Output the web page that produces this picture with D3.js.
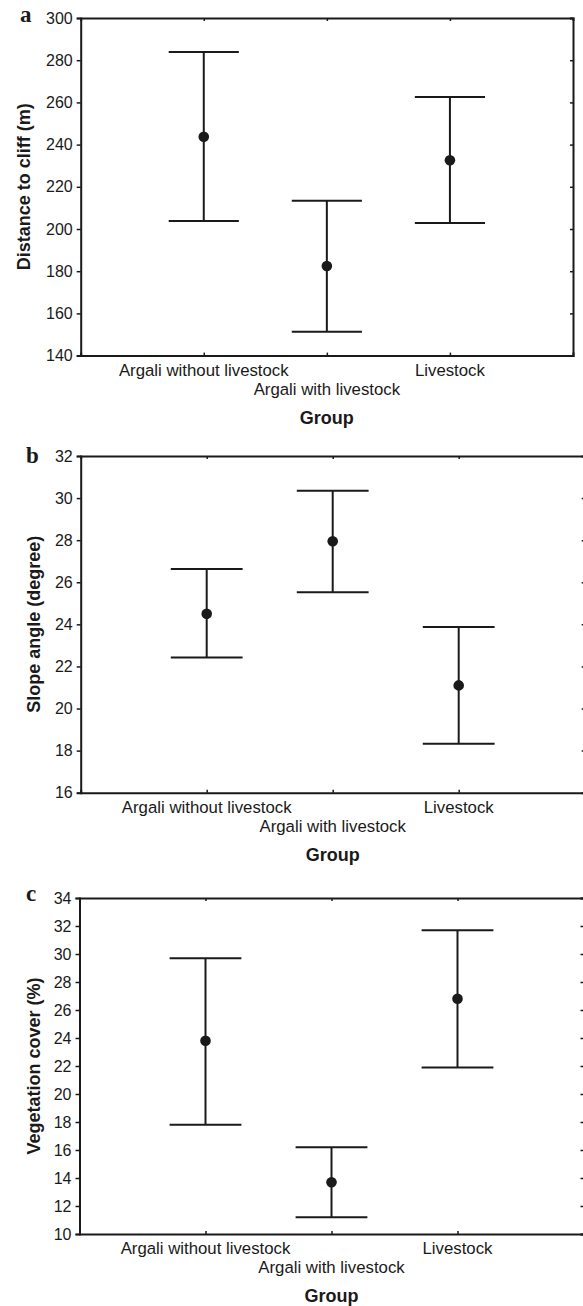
<!DOCTYPE html>
<html>
<head>
<meta charset="utf-8">
<script src="https://cdn.jsdelivr.net/npm/d3@7"></script>
<style>
    html, body { margin: 0; padding: 0; background: #fff; }
    svg { display: block; }
    text { font-family: "Liberation Sans", Arial, sans-serif; fill: #1a1a1a; }
</style>
</head>
<body>
<div id="chart"></div>
<script>
// Mean and interval plots for the three groups (panels a, b, c)

const groups = ["Argali without livestock", "Argali with livestock", "Livestock"];

// a - distance to cliff (m)
const distanceMean = [243.7, 182.5, 232.6];
const distanceLow = [203.8, 151.3, 202.8];
const distanceHigh = [283.9, 213.4, 262.6];
const distanceTicks = [140, 160, 180, 200, 220, 240, 260, 280, 300];

// b - slope angle (degree)
const slopeMean = [24.5, 27.95, 21.1];
const slopeLow = [22.42, 25.52, 18.33];
const slopeHigh = [26.63, 30.35, 23.88];
const slopeTicks = [16, 18, 20, 22, 24, 26, 28, 30, 32];

// c - vegetation cover (%)
const coverMean = [23.8, 13.7, 26.8];
const coverLow = [17.8, 11.2, 21.9];
const coverHigh = [29.7, 16.2, 31.7];
const coverTicks = [10, 12, 14, 16, 18, 20, 22, 24, 26, 28, 30, 32, 34];

const width = 583, height = 1306;
const ink = "#1a1a1a";

const svg = d3.select("#chart")
    .append("svg")
    .attr("width", width)
    .attr("height", height);

function drawPanel(opts) {
    const { letter, letterPos, box, ticks, title, titleX, mean, low, high } = opts;

    const x = d3.scaleLinear().domain([0, 4]).range([box.left, box.right]);
    const y = d3.scaleLinear()
        .domain([ticks[0], ticks[ticks.length - 1]])
        .range([box.bottom, box.top]);

    const g = svg.append("g");

    // axes: left ticks point out, the other three sides point in
    const left = g.append("g")
        .attr("transform", `translate(${box.left},0)`)
        .call(d3.axisLeft(y).tickValues(ticks).tickSize(4).tickPadding(4).tickFormat(d3.format("d")));
    const right = g.append("g")
        .attr("transform", `translate(${box.right},0)`)
        .call(d3.axisLeft(y).tickValues(ticks).tickSize(3).tickFormat(""));
    const bottom = g.append("g")
        .attr("transform", `translate(0,${box.bottom})`)
        .call(d3.axisTop(x).tickValues([1, 2, 3]).tickSize(3).tickFormat(""));
    const top = g.append("g")
        .attr("transform", `translate(0,${box.top})`)
        .call(d3.axisBottom(x).tickValues([1, 2, 3]).tickSize(3).tickFormat(""));

    [left, right, bottom, top].forEach(ax => {
        ax.select(".domain").attr("stroke", ink).attr("stroke-width", 2);
        ax.selectAll(".tick line").attr("stroke", ink).attr("stroke-width", 1.5);
    });
    left.selectAll(".tick text")
        .attr("fill", ink)
        .style("font-size", "16px")
        .style("font-family", "'Liberation Sans', Arial, sans-serif");

    // category labels, the middle one on a second row
    g.selectAll("text.cat")
        .data(groups)
        .join("text")
        .attr("class", "cat")
        .attr("x", (d, i) => x(i + 1))
        .attr("y", (d, i) => box.bottom + (i === 1 ? 39 : 20))
        .attr("text-anchor", "middle")
        .style("font-size", "16.8px")
        .text(d => d);

    g.append("text")
        .attr("x", x(2))
        .attr("y", box.bottom + 68)
        .attr("text-anchor", "middle")
        .style("font-size", "18px")
        .style("font-weight", "bold")
        .text("Group");

    g.append("text")
        .attr("transform", `translate(${titleX},${(box.top + box.bottom) / 2}) rotate(-90)`)
        .attr("text-anchor", "middle")
        .style("font-size", "18px")
        .style("font-weight", "bold")
        .text(title);

    g.append("text")
        .attr("x", letterPos[0])
        .attr("y", letterPos[1])
        .style("font-family", "'Liberation Serif', 'DejaVu Serif', serif")
        .style("font-size", "23px")
        .style("font-weight", "bold")
        .text(letter);

    // whiskers, caps and mean points
    const rows = groups.map((d, i) => ({ i: i + 1, mean: mean[i], low: low[i], high: high[i] }));
    const capHalf = 0.285;

    g.selectAll("line.whisker")
        .data(rows)
        .join("line")
        .attr("class", "whisker")
        .attr("x1", d => x(d.i)).attr("x2", d => x(d.i))
        .attr("y1", d => y(d.low)).attr("y2", d => y(d.high))
        .attr("stroke", ink).attr("stroke-width", 2);

    g.selectAll("line.cap")
        .data(rows.flatMap(d => [d.low, d.high].map(v => ({ i: d.i, v }))))
        .join("line")
        .attr("class", "cap")
        .attr("x1", d => x(d.i - capHalf)).attr("x2", d => x(d.i + capHalf))
        .attr("y1", d => y(d.v)).attr("y2", d => y(d.v))
        .attr("stroke", ink).attr("stroke-width", 2);

    g.selectAll("circle.mean")
        .data(rows)
        .join("circle")
        .attr("class", "mean")
        .attr("cx", d => x(d.i))
        .attr("cy", d => y(d.mean))
        .attr("r", 5.3)
        .attr("fill", ink);
}

drawPanel({
    letter: "a", letterPos: [20, 22],
    box: { left: 80.7, right: 573, top: 18, bottom: 355.6 },
    ticks: distanceTicks, title: "Distance to cliff (m)", titleX: 30,
    mean: distanceMean, low: distanceLow, high: distanceHigh
});

drawPanel({
    letter: "b", letterPos: [26, 463],
    box: { left: 80.7, right: 584.7, top: 456, bottom: 792.7 },
    ticks: slopeTicks, title: "Slope angle (degree)", titleX: 40,
    mean: slopeMean, low: slopeLow, high: slopeHigh
});

drawPanel({
    letter: "c", letterPos: [26, 901],
    box: { left: 79.5, right: 583.5, top: 898, bottom: 1234 },
    ticks: coverTicks, title: "Vegetation cover (%)", titleX: 40,
    mean: coverMean, low: coverLow, high: coverHigh
});
</script>
</body>
</html>
